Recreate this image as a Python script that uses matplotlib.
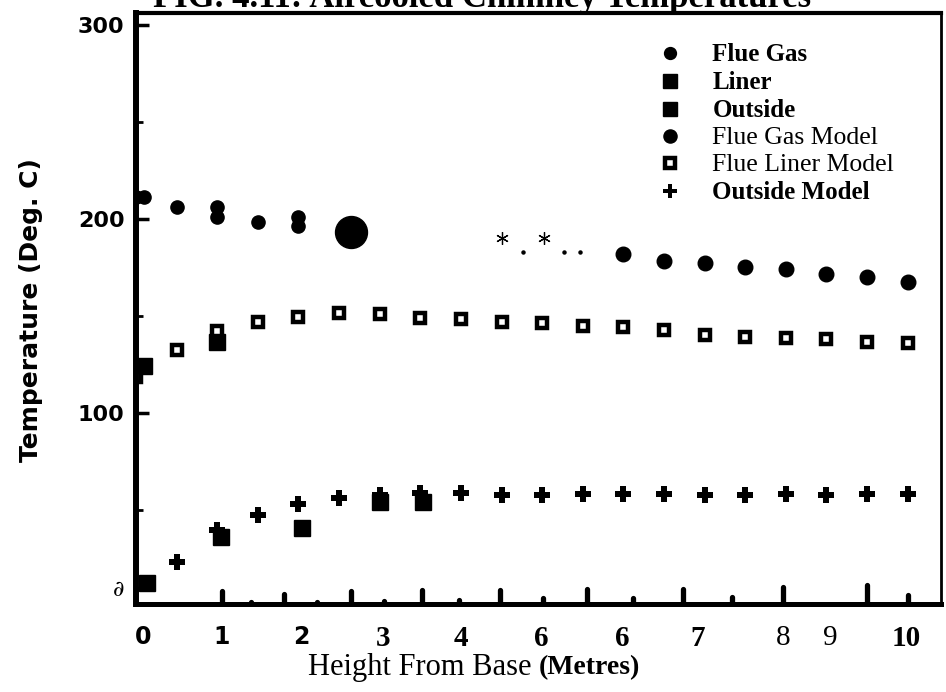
import matplotlib
matplotlib.use("Agg")
import matplotlib.pyplot as plt
from matplotlib.font_manager import FontProperties

# ---------------- data ----------------
model_heights = [0.0, 0.5, 1.0, 1.5, 2.0, 2.5, 3.0, 3.5, 4.0, 4.5,
                 5.0, 5.5, 6.0, 6.5, 7.0, 7.5, 8.0, 8.5, 9.0, 9.5]
liner_model = [118.6, 132.5, 142.3, 146.9, 149.5, 151.5, 151.0, 149.0, 148.5, 146.9,
               146.4, 144.8, 144.3, 142.8, 140.2, 139.2, 138.7, 138.1, 136.6, 136.1]

outside_model_heights = [0.5, 1.0, 1.5, 2.0, 2.5, 3.0, 3.5, 4.0, 4.5, 5.0,
                         5.5, 6.0, 6.5, 7.0, 7.5, 8.0, 8.5, 9.0, 9.5]
outside_model = [23.2, 39.7, 47.4, 53.1, 56.2, 57.7, 58.8, 58.8, 57.7, 57.7,
                 58.2, 58.2, 58.0, 57.7, 57.7, 58.0, 57.7, 58.0, 58.2]

flue_gas_heights = [0.0, 0.1, 0.5, 1.0, 1.0, 1.5, 2.0, 2.0]
flue_gas = [211.0, 211.0, 206.0, 206.0, 201.0, 198.5, 201.0, 196.0]

flue_gas_big_heights = [2.65]
flue_gas_big = [193.0]

flue_gas_model_heights = [6.0, 6.5, 7.0, 7.5, 8.0, 8.5, 9.0, 9.5]
flue_gas_model = [182.0, 178.4, 177.3, 175.3, 174.2, 171.6, 170.1, 167.5]

star_heights = [4.5, 5.02]
star_temps = [190.0, 190.0]
dot_heights = [4.77, 5.27, 5.47]
dot_temps = [183.0, 183.0, 183.0]

liner_heights = [0.1, 1.0]
liner = [124.2, 136.5]

outside_heights = [0.14, 1.05, 2.04, 3.0, 3.53]
outside = [12.4, 36.1, 40.7, 54.1, 54.1]

base_heights = [1.06, 1.42, 1.82, 2.23, 2.65, 3.05, 3.52, 3.98, 4.48, 5.01,
                5.55, 6.12, 6.74, 7.34, 7.96, 9.0, 9.5]
base_tops = [8.2, 2.6, 6.7, 2.6, 8.2, 3.1, 8.7, 3.6, 8.7, 4.6,
             9.3, 4.6, 9.3, 5.2, 10.3, 11.3, 6.2]

x_tick_pos = [0.09, 1.05, 2.03, 3.04, 4.0, 4.99, 5.99, 6.92, 7.97, 8.55, 9.48]
x_tick_labels = ["0", "1", "2", "3", "4", "6", "6", "7", "8", "9", "10"]
y_tick_pos = [10, 100, 200, 300]
y_tick_labels = ["\u2202", "100", "200", "300"]
y_minor_pos = [50, 150, 250]

legend_labels = ["Flue Gas", "Liner", "Outside",
                 "Flue Gas Model", "Flue Liner Model", "Outside Model"]
title_text = "FIG. 4.11: Aircooled Chimney Temperatures"

# ---------------- figure ----------------
W, H = 946, 692
fig = plt.figure(figsize=(W / 100, H / 100), dpi=100)
ax = fig.add_axes([135.5 / W, 1 - 604 / H, (941 - 135.5) / W, (604 - 13) / H])

ax.set_xlim(-0.006, 9.91)
ax.set_ylim(1.5, 306)

serif_b = FontProperties(family="Liberation Serif", weight="bold")
serif_r = FontProperties(family="Liberation Serif", weight="normal")
sans_b = FontProperties(family="DejaVu Sans", weight="bold")

# series
h_fg, = ax.plot(flue_gas_heights, flue_gas, ls="none", marker="o", ms=9.5,
                color="black", label=legend_labels[0])
ax.plot(flue_gas_big_heights, flue_gas_big, ls="none", marker="o", ms=23, color="black")
h_li, = ax.plot(liner_heights, liner, ls="none", marker="s", ms=11, color="black",
                label=legend_labels[1])
h_out, = ax.plot(outside_heights, outside, ls="none", marker="s", ms=11, color="black",
                 label=legend_labels[2])
h_fgm, = ax.plot(flue_gas_model_heights, flue_gas_model, ls="none", marker="o", ms=10.5,
                 color="black", label=legend_labels[3])
h_lm, = ax.plot(model_heights, liner_model, ls="none", marker="s", ms=7.5, mew=3.2,
                mfc="white", mec="black", label=legend_labels[4])
h_om, = ax.plot(outside_model_heights, outside_model, ls="none", marker="P", ms=11.5,
                color="black", mew=0, label=legend_labels[5])
ax.plot(star_heights, star_temps, ls="none", marker=(6, 2, 0), ms=9, mew=0.9,
        color="black")
ax.plot(dot_heights, dot_temps, ls="none", marker="o", ms=2.2, color="black")
ax.vlines(base_heights, 1.5, base_tops, colors="black", linewidth=3.8,
          capstyle="round")

# spines
ax.spines["left"].set_linewidth(4.3)
ax.spines["bottom"].set_linewidth(3.6)
ax.spines["top"].set_linewidth(3.0)
ax.spines["right"].set_linewidth(2.0)
for s in ax.spines.values():
    s.set_color("black")

# ticks
ax.set_xticks(x_tick_pos)
ax.set_xticklabels(x_tick_labels)
ax.tick_params(axis="x", length=0, pad=15)
xfonts = [sans_b, sans_b, sans_b, serif_b, serif_b, serif_b, serif_b, serif_b,
          serif_r, serif_r, serif_b]
xsizes = [17, 17, 17, 21, 21, 21, 21, 21, 21, 21, 21]
for t, fp, sz in zip(ax.get_xticklabels(), xfonts, xsizes):
    t.set_fontproperties(fp)
    t.set_fontsize(sz)

ax.set_yticks(y_tick_pos)
ax.set_yticklabels(y_tick_labels)
ax.set_yticks(y_minor_pos, minor=True)
ax.tick_params(axis="y", which="major", direction="in", length=9, width=2.5, pad=8)
ax.tick_params(axis="y", which="minor", direction="in", length=5, width=2)
ylabels = ax.get_yticklabels()
for i, t in enumerate(ylabels):
    if i == 0:
        t.set_fontproperties(FontProperties(family="DejaVu Serif", style="italic"))
        t.set_fontsize(16)
    else:
        t.set_fontproperties(sans_b)
        t.set_fontsize(16)

# axis labels
fig.text(31 / W, 1 - 310 / H, "Temperature (Deg. C)", rotation=90, ha="center",
         va="center", fontproperties=sans_b, fontsize=18)
fig.text(531 / W, 1 - 668 / H, "Height From Base", ha="right", va="center",
         fontproperties=serif_r, fontsize=22)
fig.text(539 / W, 1 - 668 / H, "(Metres)", ha="left", va="center",
         fontproperties=serif_b, fontsize=20)

# title (cut off at the top edge, as in the reference)
fig.text(482 / W, 1 - 7 / H, title_text, ha="center", va="baseline",
         fontproperties=serif_b, fontsize=25)

# legend
leg = ax.legend(handles=[h_fg, h_li, h_out, h_fgm, h_lm, h_om],
                loc="upper left", bbox_to_anchor=(658 / W, 1 - 43 / H),
                bbox_transform=fig.transFigure, frameon=False, fontsize=17,
                handlelength=1.0, handletextpad=1.3, labelspacing=0.215,
                markerscale=0.9, borderpad=0, borderaxespad=0)
leg_fonts = [serif_b, serif_b, serif_b, serif_r, serif_r, serif_b]
leg_sizes = [18, 18, 18, 18.5, 18.5, 18]
for t, fp, sz in zip(leg.get_texts(), leg_fonts, leg_sizes):
    t.set_fontproperties(fp)
    t.set_fontsize(sz)

fig.savefig("out.png", dpi=100)
